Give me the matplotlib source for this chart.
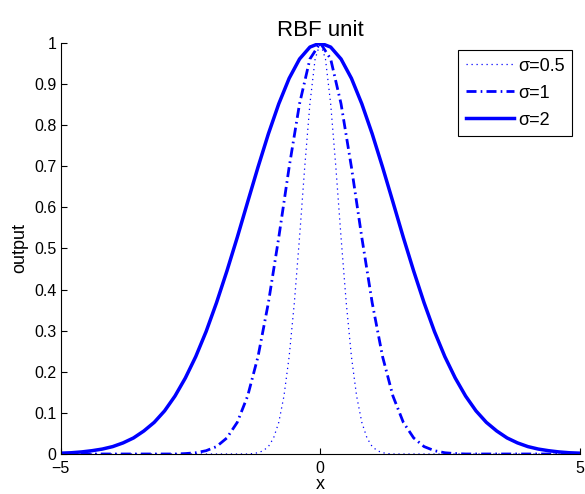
import numpy as np
import matplotlib.pyplot as plt

plt.rcParams['font.family'] = ['Liberation Sans', 'DejaVu Sans']

# values (x, output)
x_s05 = [-5.0, -1.5, -1.4, -1.3, -1.2, -1.1, -1.0, -0.9, -0.8, -0.7, -0.6, -0.5, -0.4, -0.3, -0.2, -0.1,
         0.0, 0.1, 0.2, 0.3, 0.4, 0.5, 0.6, 0.7, 0.8, 0.9, 1.0, 1.1, 1.2, 1.3, 1.4, 1.5, 5.0]
y_s05 = [0.0, 0.0, 0.0, 0.001, 0.003, 0.008, 0.018, 0.039, 0.077, 0.141, 0.237, 0.368, 0.527, 0.698, 0.852, 0.961,
         1.0, 0.961, 0.852, 0.698, 0.527, 0.368, 0.237, 0.141, 0.077, 0.039, 0.018, 0.008, 0.003, 0.001, 0.0, 0.0, 0.0]

x_s1 = [-5.0, -3.0, -2.8, -2.6, -2.4, -2.2, -2.0, -1.8, -1.6, -1.4, -1.2, -1.0, -0.8, -0.6, -0.4, -0.2,
        0.0, 0.2, 0.4, 0.6, 0.8, 1.0, 1.2, 1.4, 1.6, 1.8, 2.0, 2.2, 2.4, 2.6, 2.8, 3.0, 5.0]
y_s1 = [0.0, 0.0, 0.0, 0.001, 0.003, 0.008, 0.018, 0.039, 0.077, 0.141, 0.237, 0.368, 0.527, 0.698, 0.852, 0.961,
        1.0, 0.961, 0.852, 0.698, 0.527, 0.368, 0.237, 0.141, 0.077, 0.039, 0.018, 0.008, 0.003, 0.001, 0.0, 0.0, 0.0]

x_s2 = [-5.0, -4.8, -4.6, -4.4, -4.2, -4.0, -3.8, -3.6, -3.4, -3.2, -3.0, -2.8, -2.6, -2.4, -2.2, -2.0, -1.8,
        -1.6, -1.4, -1.2, -1.0, -0.8, -0.6, -0.4, -0.2, 0.0, 0.2, 0.4, 0.6, 0.8, 1.0, 1.2, 1.4, 1.6, 1.8,
        2.0, 2.2, 2.4, 2.6, 2.8, 3.0, 3.2, 3.4, 3.6, 3.8, 4.0, 4.2, 4.4, 4.6, 4.8, 5.0]
y_s2 = [0.002, 0.003, 0.005, 0.008, 0.012, 0.018, 0.027, 0.039, 0.056, 0.077, 0.105, 0.141, 0.185, 0.237, 0.298,
        0.368, 0.445, 0.527, 0.613, 0.698, 0.779, 0.852, 0.914, 0.961, 0.990, 1.0, 0.990, 0.961, 0.914, 0.852,
        0.779, 0.698, 0.613, 0.527, 0.445, 0.368, 0.298, 0.237, 0.185, 0.141, 0.105, 0.077, 0.056, 0.039,
        0.027, 0.018, 0.012, 0.008, 0.005, 0.003, 0.002]

fig = plt.figure(figsize=(5.85, 4.94), dpi=100)
ax = fig.add_axes([0.104, 0.081, 0.887, 0.832])

ax.plot(x_s05, y_s05, linestyle=(0, (1, 3)), color='blue', lw=0.9, label='σ=0.5')
ax.plot(x_s1, y_s1, linestyle=(0, (3.6, 1.5, 0.6, 1.5)), color='blue', lw=2.0, label='σ=1')
ax.plot(x_s2, y_s2, '-', color='blue', lw=2.5, label='σ=2')

ax.set_xlim(-5, 5)
ax.set_ylim(0, 1)
ax.set_xticks([-5, 0, 5])
ax.set_xticklabels(['\u22125', '0', '5'])
ax.set_yticks(np.arange(0, 1.01, 0.1))
ax.set_yticklabels(['0', '0.1', '0.2', '0.3', '0.4', '0.5', '0.6', '0.7', '0.8', '0.9', '1'])
ax.tick_params(direction='in', labelsize=11.5, length=4, width=0.8, pad=3)
ax.tick_params(axis='x', pad=5)
ax.spines['top'].set_visible(False)
ax.spines['right'].set_visible(False)

ax.set_title('RBF unit', fontsize=16, pad=5)
ax.set_xlabel('x', fontsize=13, labelpad=0)
ax.set_ylabel('output', fontsize=13, labelpad=4)

leg = ax.legend(loc='upper right', bbox_to_anchor=(0.995, 0.995), fontsize=13, fancybox=False,
                framealpha=1, edgecolor='black', handlelength=2.7, borderaxespad=0.3,
                handletextpad=0.2, labelspacing=0.55, borderpad=0.4)
leg.get_frame().set_linewidth(0.8)

fig.savefig('out.png', dpi=100)
